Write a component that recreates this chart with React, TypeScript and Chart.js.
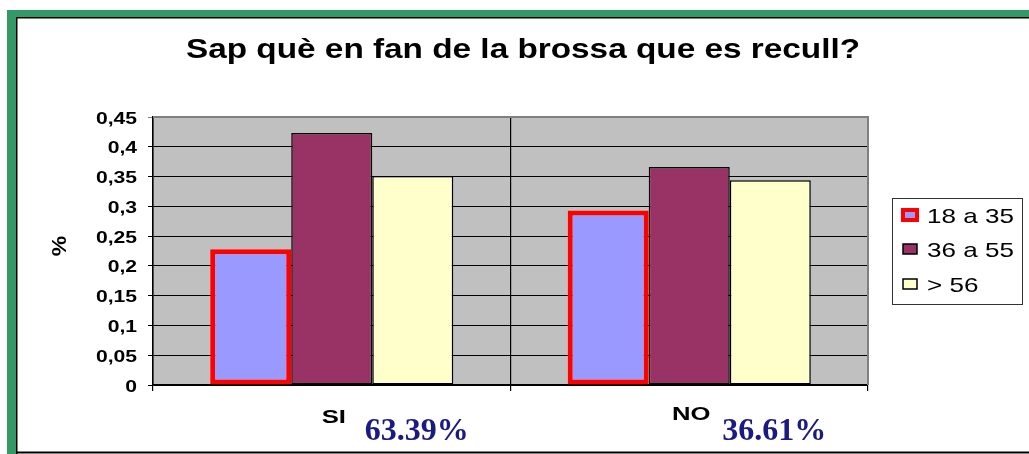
import React, { useEffect, useRef } from "react";
import { Chart, registerables } from "chart.js";

Chart.register(...registerables);

const title = "Sap què en fan de la brossa que es recull?";
const categories = ["SI", "NO"];
const categoryShares = ["63.39%", "36.61%"];
const seriesNames = ["18 a 35", "36 a 55", "> 56"];
const age18to35 = [0.228, 0.293];
const age36to55 = [0.423, 0.366];
const age56plus = [0.351, 0.344];
const yAxisTitle = "%";

const W = 1029;
const H = 454;

const fills = ["#9999FF", "#993366", "#FFFFCC"];
const borders = ["#FF0000", "#000000", "#000000"];
const borderWidths = [5, 1.5, 1.5];

function stretchedText(
  ctx: CanvasRenderingContext2D,
  s: string,
  x: number,
  y: number,
  font: string,
  color: string,
  sx: number,
  align: CanvasTextAlign
) {
  ctx.save();
  ctx.font = font;
  ctx.fillStyle = color;
  ctx.textBaseline = "alphabetic";
  ctx.textAlign = align;
  ctx.translate(x, y);
  ctx.scale(sx, 1);
  ctx.fillText(s, 0, 0);
  ctx.restore();
}

const decorPlugin = {
  id: "decor",
  beforeDraw(chart: any) {
    const ctx: CanvasRenderingContext2D = chart.ctx;
    const a = chart.chartArea;
    ctx.save();
    ctx.fillStyle = "#FFFFFF";
    ctx.fillRect(0, 0, W, H);
    ctx.fillStyle = "#339966";
    ctx.fillRect(7, 10, W - 7, 7);
    ctx.fillRect(7, 10, 9, H - 10);
    ctx.fillStyle = "#000000";
    ctx.fillRect(16, 17, W - 16, 1.5);
    ctx.fillRect(16, 17, 1.5, H - 17);
    ctx.fillRect(16, 451.5, W - 16, 2);
    ctx.fillStyle = "#C0C0C0";
    ctx.fillRect(a.left, a.top, a.right - a.left, a.bottom - a.top);
    ctx.restore();
  },
  afterDraw(chart: any) {
    const ctx: CanvasRenderingContext2D = chart.ctx;
    const a = chart.chartArea;
    const ys = chart.scales.y;
    const xs = chart.scales.x;

    ctx.save();
    ctx.strokeStyle = "#808080";
    ctx.lineWidth = 2;
    ctx.beginPath();
    ctx.moveTo(a.left, a.top);
    ctx.lineTo(a.right, a.top);
    ctx.lineTo(a.right, a.bottom);
    ctx.stroke();
    ctx.restore();

    stretchedText(ctx, title, 523, 58, "bold 28px 'Liberation Sans', Arial, sans-serif", "#000", 1.19, "center");

    ys.ticks.forEach((t: any) => {
      const v = Math.round(t.value * 100) / 100;
      const label = String(v).replace(".", ",");
      const y = ys.getPixelForValue(t.value);
      stretchedText(ctx, label, 137, y + 6.5, "bold 16px 'Liberation Sans', Arial, sans-serif", "#000", 1.32, "right");
    });

    ctx.save();
    ctx.translate(66, 246);
    ctx.rotate(-Math.PI / 2);
    ctx.font = "bold 20px 'Liberation Sans', Arial, sans-serif";
    ctx.fillStyle = "#000";
    ctx.textAlign = "center";
    ctx.textBaseline = "alphabetic";
    ctx.scale(1.15, 1);
    ctx.fillText(yAxisTitle, 0, 0);
    ctx.restore();

    const catBaselines = [423, 420];
    categories.forEach((c, i) => {
      const x = xs.getPixelForValue(i);
      stretchedText(ctx, c, x + 2, catBaselines[i], "bold 19px 'Liberation Sans', Arial, sans-serif", "#000", 1.35, "center");
      stretchedText(ctx, categoryShares[i], x + 85, 440, "bold 32px 'Liberation Serif', 'Times New Roman', serif", "#1a1a80", 1.0, "center");
    });

    ctx.save();
    ctx.strokeStyle = "#333";
    ctx.lineWidth = 1;
    ctx.strokeRect(892.5, 198.5, 130, 106);
    ctx.restore();
    const baselines = [223, 257, 292];
    chart.data.datasets.forEach((ds: any, i: number) => {
      const b = baselines[i];
      ctx.save();
      ctx.fillStyle = ds.backgroundColor;
      ctx.fillRect(903, b - 13, 14, 10);
      ctx.strokeStyle = ds.borderColor;
      ctx.lineWidth = i === 0 ? 4 : 1.5;
      ctx.strokeRect(903, b - 13, 14, 10);
      ctx.restore();
      stretchedText(ctx, ds.label, 927, b, "21px 'Liberation Sans', Arial, sans-serif", "#000", 1.24, "left");
    });
  },
};

export default function App() {
  const ref = useRef<HTMLCanvasElement | null>(null);
  useEffect(() => {
    if (!ref.current) return;
    const seriesData = [age18to35, age36to55, age56plus];
    const chart = new Chart(ref.current, {
      type: "bar",
      data: {
        labels: categories,
        datasets: seriesNames.map((name, i) => ({
          label: name,
          data: seriesData[i],
          backgroundColor: fills[i],
          borderColor: borders[i],
          borderWidth: borderWidths[i],
          borderSkipped: false,
          categoryPercentage: 0.68,
          barPercentage: 1.0,
        })),
      },
      options: {
        responsive: false,
        animation: false,
        devicePixelRatio: 1,
        layout: { padding: { top: 117, right: W - 868, bottom: 0, left: 0 } },
        plugins: {
          legend: { display: false },
          title: { display: false },
          tooltip: { enabled: false },
        },
        scales: {
          y: {
            min: 0,
            max: 0.45,
            ticks: { stepSize: 0.05, display: false },
            afterFit: (s: any) => {
              s.width = 153;
            },
            grid: {
              color: (c: any) => (c.tick && Math.abs(c.tick.value - 0.45) < 1e-6 ? "#808080" : "#000000"),
              lineWidth: 1,
              tickLength: 5,
              drawTicks: true,
            },
            border: { color: "#000000", width: 1.5 },
          },
          x: {
            ticks: { display: false },
            afterFit: (s: any) => {
              s.height = 69;
            },
            grid: {
              offset: true,
              color: (c: any) => (c.index === 2 ? "#808080" : "#000000"),
              lineWidth: 1.2,
              tickLength: 6,
              drawTicks: true,
            },
            border: { color: "#000000", width: 1.5 },
          },
        },
      },
      plugins: [decorPlugin],
    });
    return () => chart.destroy();
  }, []);
  return (
    <canvas
      ref={ref}
      width={W}
      height={H}
      style={{ position: "absolute", left: 0, top: 0, width: W, height: H }}
    />
  );
}
